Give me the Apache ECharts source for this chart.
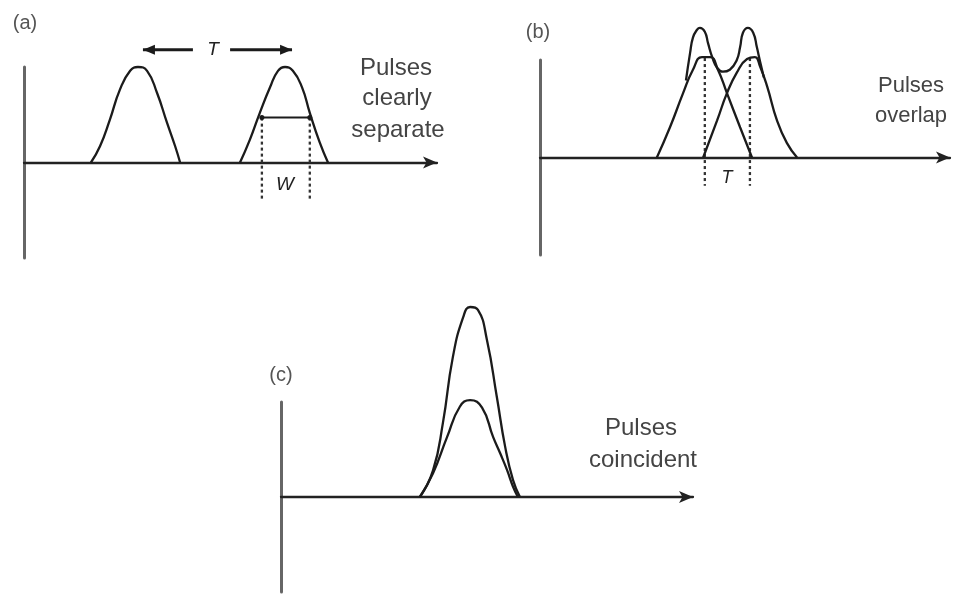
<!DOCTYPE html>
<html><head><meta charset="utf-8">
<script src="https://cdn.jsdelivr.net/npm/echarts@6/dist/echarts.min.js"></script>
<style>html,body{margin:0;padding:0;background:#fff}#c{width:958px;height:594px}</style>
</head><body><div id="c"></div>
<script>
// ---------- Panel (a): pulses clearly separate ----------
const a1X = [16.2, 18.4, 20.8, 23.2, 25.7, 27.6, 29.8, 32.2, 34.6, 36.6, 37.8];
const a1Y = [0, 0.17, 0.45, 0.76, 0.96, 1.0, 0.96, 0.73, 0.42, 0.17, 0];
const a2X = [52.3, 54.7, 57.1, 59.6, 61.5, 63.2, 65.1, 67.3, 69.2, 71.6, 73.6];
const a2Y = [0, 0.24, 0.52, 0.79, 0.96, 1.0, 0.96, 0.79, 0.52, 0.21, 0];
const aWidthX = [57.6, 69.2];          // W: width at half height
const aWidthY = 0.47;
const aDashBottom = -0.38;
const aPeriodLeft = [40.9, 28.8];      // T arrow, left part (from, tip)
const aPeriodRight = [49.9, 64.9];     // T arrow, right part (from, tip)
const aPeriodY = 1.18;

// ---------- Panel (b): pulses overlap ----------
const b1X = [28.5, 31.7, 34.9, 37.3, 39.5, 41.5, 43.4, 45.6, 48.8, 51.7];
const b1Y = [0, 0.31, 0.66, 0.90, 1.03, 1.03, 0.90, 0.66, 0.31, 0];
const b2X = [39.8, 43.2, 45.6, 48.0, 50.5, 52.4, 53.7, 55.4, 57.8, 60.2, 62.7];
const b2Y = [0, 0.38, 0.66, 0.87, 1.01, 1.03, 0.93, 0.73, 0.38, 0.15, 0];
const bSumX = [35.6, 36.6, 37.3, 38.3, 39.0, 40.2, 41.0, 42.0, 43.2, 44.6, 46.3, 48.0, 48.8, 49.5, 50.7, 52.0, 52.9, 53.7, 54.6];
const bSumY = [0.79, 1.07, 1.23, 1.31, 1.33, 1.29, 1.17, 1.03, 0.92, 0.88, 0.90, 1.00, 1.13, 1.28, 1.33, 1.28, 1.13, 0.98, 0.82];
const bDashX = [40.2, 51.2];
const bDashTop = 1.02, bDashBottom = -0.29;

// ---------- Panel (c): pulses coincident ----------
const c1X = [33.7, 36.9, 39.3, 41.7, 44.2, 45.9, 47.8, 50.0, 52.4, 54.4, 56.3, 58.0];
const c1Y = [0, 0.28, 0.78, 1.47, 1.89, 2.0, 1.97, 1.65, 1.05, 0.53, 0.18, 0];
const c2X = [33.7, 36.9, 40.3, 43.4, 45.9, 48.8, 51.5, 53.2, 54.9, 56.3, 57.5];
const c2Y = [0, 0.25, 0.63, 0.95, 1.02, 0.94, 0.63, 0.46, 0.28, 0.11, 0];

// ---------- Texts ----------
const panelLabels = ['(a)', '(b)', '(c)'];
const noteA = ['Pulses', 'clearly', 'separate'];
const noteB = ['Pulses', 'overlap'];
const noteC = ['Pulses', 'coincident'];

const zip = (xs, ys) => xs.map((x, i) => [x, ys[i]]);
const INK = '#1b1b1b';
const FONT = '"Liberation Sans", Arial, sans-serif';

function curve(name, idx, xs, ys) {
  return { name, type: 'line', xAxisIndex: idx, yAxisIndex: idx, data: zip(xs, ys),
    smooth: 0.5, symbol: 'none', clip: false,
    lineStyle: { color: INK, width: 2.3 }, z: 3, silent: true };
}
function dashed(name, idx, x, y0, y1) {
  return { name, type: 'line', xAxisIndex: idx, yAxisIndex: idx, data: [[x, y0], [x, y1]],
    symbol: 'none', clip: false,
    lineStyle: { color: '#333', width: 2.3, type: [3, 3] }, z: 2, silent: true };
}
const LEFT_HEAD = 'path://M0,5 L12,0 L12,10 Z';
const RIGHT_HEAD = 'path://M12,5 L0,0 L0,10 Z';
function arrow(name, idx, from, tip, y, head, off) {
  return { name, type: 'line', xAxisIndex: idx, yAxisIndex: idx, clip: false,
    data: [{ value: [from, y], symbol: 'none' },
           { value: [tip, y], symbol: head, symbolSize: [12, 10], symbolOffset: [off, 0] }],
    showSymbol: true, itemStyle: { color: INK },
    lineStyle: { color: INK, width: 3 }, z: 3, silent: true };
}

function axesFor(gridIdx) {
  return {
    x: { type: 'value', gridIndex: gridIdx, min: 0, max: 100,
      axisLine: { show: true, onZero: true, symbol: ['none', 'arrow'], symbolSize: [9, 14],
        lineStyle: { color: '#222', width: 2.3 } },
      axisTick: { show: false }, axisLabel: { show: false }, splitLine: { show: false } },
    y: { type: 'value', gridIndex: gridIdx, min: -1, max: 1,
      axisLine: { show: true, onZero: false, lineStyle: { color: '#666', width: 3 } },
      axisTick: { show: false }, axisLabel: { show: false }, splitLine: { show: false } }
  };
}
const ax = [0, 1, 2].map(i => axesFor(i));

function textEl(str, x, y, size, opts) {
  return { type: 'text', x, y, silent: true,
    style: Object.assign({ text: str, fontSize: size, fontFamily: FONT, fill: '#444',
      align: 'center', verticalAlign: 'middle' }, opts || {}) };
}

const graphics = [
  textEl(panelLabels[0], 25, 23, 20, { fill: '#555' }),
  textEl(panelLabels[1], 538, 32, 20, { fill: '#555' }),
  textEl(panelLabels[2], 281, 375, 20, { fill: '#555' }),
  textEl(noteA[0], 396, 68, 24), textEl(noteA[1], 397, 98, 24), textEl(noteA[2], 398, 130, 24),
  textEl(noteB[0], 911, 86, 22), textEl(noteB[1], 911, 116, 22),
  textEl(noteC[0], 641, 428, 24), textEl(noteC[1], 643, 460, 24),
  textEl('T', 213, 50, 19, { fontStyle: 'italic', fill: '#222' }),
  textEl('W', 285, 185, 19, { fontStyle: 'italic', fill: '#222' }),
  textEl('T', 727, 178, 18, { fontStyle: 'italic', fill: '#222' })
];

const series = [
  curve('a pulse 1', 0, a1X, a1Y),
  curve('a pulse 2', 0, a2X, a2Y),
  { name: 'a width', type: 'line', xAxisIndex: 0, yAxisIndex: 0, clip: false,
    data: aWidthX.map(x => [x, aWidthY]), symbol: 'circle', symbolSize: 5,
    itemStyle: { color: INK }, lineStyle: { color: INK, width: 2 }, z: 3, silent: true },
  dashed('a dash 1', 0, aWidthX[0], aWidthY, aDashBottom),
  dashed('a dash 2', 0, aWidthX[1], aWidthY, aDashBottom),
  arrow('a T left', 0, aPeriodLeft[0], aPeriodLeft[1], aPeriodY, LEFT_HEAD, 6),
  arrow('a T right', 0, aPeriodRight[0], aPeriodRight[1], aPeriodY, RIGHT_HEAD, -6),

  curve('b pulse 1', 1, b1X, b1Y),
  curve('b pulse 2', 1, b2X, b2Y),
  curve('b sum', 1, bSumX, bSumY),
  dashed('b dash 1', 1, bDashX[0], bDashTop, bDashBottom),
  dashed('b dash 2', 1, bDashX[1], bDashTop, bDashBottom),

  curve('c sum', 2, c1X, c1Y),
  curve('c pulse', 2, c2X, c2Y)
];

const chart = echarts.init(document.getElementById('c'), null, { renderer: 'canvas' });
chart.setOption({
  backgroundColor: '#ffffff',
  animation: false,
  grid: [
    { left: 24, top: 67, width: 413, height: 191 },
    { left: 540, top: 60, width: 410, height: 195 },
    { left: 281, top: 402, width: 412, height: 190 }
  ],
  xAxis: ax.map(a => a.x),
  yAxis: ax.map(a => a.y),
  series,
  graphic: graphics
});
</script></body></html>
